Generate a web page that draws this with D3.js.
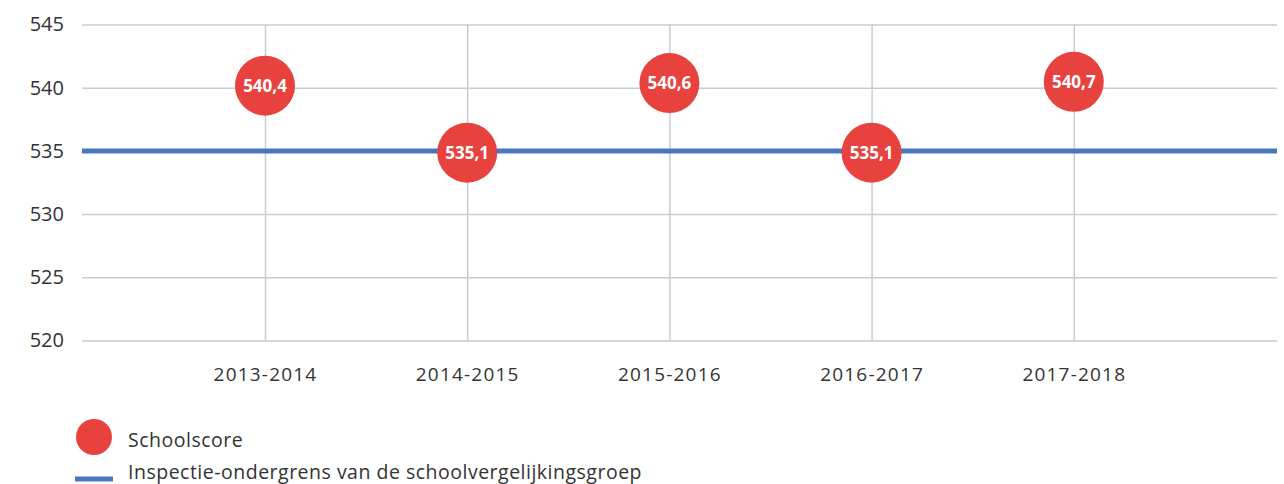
<!DOCTYPE html>
<html>
<head>
<meta charset="utf-8">
<script src="https://cdn.jsdelivr.net/npm/d3@7"></script>
<style>
  body { margin: 0; background: #fff; }
  svg { display: block; font-family: "Open Sans", "Noto Sans", sans-serif; }
</style>
</head>
<body>
<div id="chart"></div>
<script>
// data
const years = ["2013-2014", "2014-2015", "2015-2016", "2016-2017", "2017-2018"];
const schoolscore = [540.4, 535.1, 540.6, 535.1, 540.7];
const ondergrens = 535;
const yTicks = [520, 525, 530, 535, 540, 545];
const legendLabels = ["Schoolscore", "Inspectie-ondergrens van de schoolvergelijkingsgroep"];

const width = 1284, height = 484;
const plotLeft = 82, plotRight = 1277, plotTop = 24.5, plotBottom = 340.5;
const red = "#e8423f", blue = "#4a76bd", grid = "#c6cdd4";
const font = '"Open Sans", "Noto Sans", sans-serif';

const svg = d3.select("#chart")
    .append("svg")
    .attr("width", width)
    .attr("height", height);

// x: category index -> position (first category sits a bit less than one step from the left edge)
const x = d3.scaleLinear()
    .domain([-0.905, 5.005])
    .range([plotLeft, plotRight]);

const y = d3.scaleLinear()
    .domain([520, 545])
    .range([plotBottom, plotTop]);

// horizontal gridlines + y labels
const yAxis = d3.axisLeft(y)
    .tickValues(yTicks)
    .tickSize(-(plotRight - plotLeft))
    .tickPadding(18)
    .tickFormat(d3.format("d"));

const gy = svg.append("g")
    .attr("transform", `translate(${plotLeft},0)`)
    .attr("font-family", font)
    .call(yAxis);
gy.select(".domain").remove();
gy.selectAll(".tick line").attr("stroke", grid).attr("stroke-width", 1.5);
gy.selectAll(".tick text")
    .attr("fill", "#333")
    .style("font-family", font)
    .style("font-size", "20px");

// vertical gridlines at the categories + x labels
const xAxis = d3.axisBottom(x)
    .tickValues(d3.range(years.length))
    .tickSize(-(plotBottom - plotTop))
    .tickPadding(27)
    .tickFormat(i => years[i]);

const gx = svg.append("g")
    .attr("transform", `translate(0,${plotBottom})`)
    .call(xAxis);
gx.select(".domain").remove();
gx.selectAll(".tick line").attr("stroke", grid).attr("stroke-width", 1.5);
gx.selectAll(".tick text")
    .attr("fill", "#333")
    .style("font-family", font)
    .style("font-size", "19px")
    .style("letter-spacing", "1.2px");

// blue threshold line
svg.append("line")
    .attr("x1", plotLeft)
    .attr("x2", plotRight)
    .attr("y1", y(ondergrens))
    .attr("y2", y(ondergrens))
    .attr("stroke", blue)
    .attr("stroke-width", 5);

// red circles with value labels
const points = svg.append("g")
    .selectAll("g")
    .data(schoolscore)
    .join("g")
    .attr("transform", (d, i) => `translate(${x(i)},${y(d) + 3})`);

points.append("circle")
    .attr("r", 30)
    .attr("fill", red);

points.append("text")
    .attr("text-anchor", "middle")
    .attr("dy", "0.36em")
    .attr("fill", "#fff")
    .style("font-size", "17px")
    .style("font-weight", "bold")
    .text(d => d3.format(".1f")(d).replace(".", ","));

// legend
const legend = svg.append("g");

legend.append("circle")
    .attr("cx", 94)
    .attr("cy", 437)
    .attr("r", 18)
    .attr("fill", red);

legend.append("line")
    .attr("x1", 75)
    .attr("x2", 113)
    .attr("y1", 479)
    .attr("y2", 479)
    .attr("stroke", blue)
    .attr("stroke-width", 5);

legend.selectAll("text")
    .data(legendLabels)
    .join("text")
    .attr("x", 128)
    .attr("y", (d, i) => 440 + i * 32)
    .attr("dy", "0.35em")
    .attr("fill", "#333")
    .style("font-size", "19.5px")
    .style("letter-spacing", "0.5px")
    .text(d => d);
</script>
</body>
</html>
